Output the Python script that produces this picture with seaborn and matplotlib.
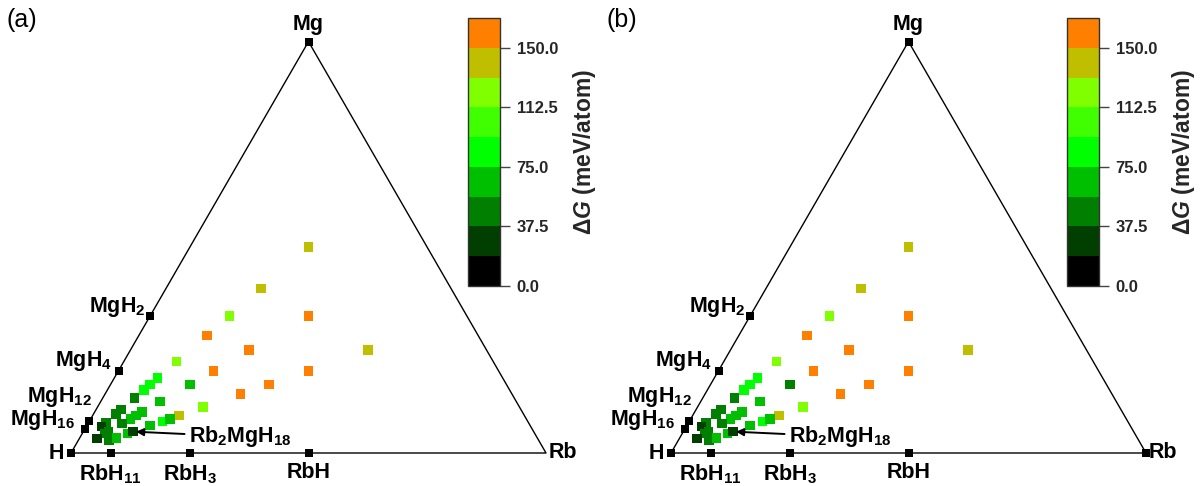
import numpy as np
import matplotlib
matplotlib.use("Agg")
import matplotlib.pyplot as plt
import matplotlib.cm as cm
import seaborn as sns
import pandas as pd
from matplotlib.colors import ListedColormap, Normalize

sns.set_style("white")
plt.rcParams['font.family'] = ['Liberation Sans', 'DejaVu Sans']
plt.rcParams['mathtext.fontset'] = 'custom'
plt.rcParams['mathtext.rm'] = 'Liberation Sans:bold'
plt.rcParams['mathtext.bf'] = 'Liberation Sans:bold'
plt.rcParams['mathtext.it'] = 'Liberation Sans:italic:bold'
plt.rcParams['text.color'] = 'black'

# ---------------- data ----------------
# ternary fractions (Rb, Mg); H = 1 - Rb - Mg
rb_frac = [0.25, 0.20, 0.1667, 0.3333, 0.1429, 0.25, 0.50, 0.1111, 0.20, 0.40,
           0.3333, 0.1667, 0.2857, 0.2222, 0.1818, 0.0909, 0.0833, 0.0769, 0.0667, 0.125,
           0.10, 0.0909, 0.0833, 0.0526, 0.0476, 0.0714, 0.0370, 0.0323, 0.0526, 0.0476,
           0.0370, 0.0645, 0.0775, 0.0952, 0.1333, 0.1538, 0.1667, 0.105]
mg_frac = [0.50, 0.40, 0.3333, 0.3333, 0.2857, 0.25, 0.25, 0.2222, 0.20, 0.20,
           0.1667, 0.1667, 0.1429, 0.1111, 0.0909, 0.1818, 0.1667, 0.1538, 0.1333, 0.125,
           0.10, 0.0909, 0.0833, 0.1053, 0.0952, 0.0714, 0.0741, 0.0645, 0.0526, 0.0476,
           0.0350, 0.0323, 0.0360, 0.0476, 0.0667, 0.0769, 0.0833, 0.052]
# formation energy above hull, meV/atom
dG_a = [140, 140, 122, 160, 160, 160, 140, 122, 160, 160,
        160, 66, 160, 122, 140, 84, 84, 84, 47, 66,
        66, 66, 66, 47, 47, 47, 47, 28, 47, 47,
        28, 47, 66, 66, 66, 84, 66, 28]
dG_b = [140, 140, 122, 160, 160, 160, 140, 122, 160, 160,
        160, 47, 160, 122, 140, 84, 84, 84, 47, 66,
        66, 66, 66, 47, 47, 47, 47, 28, 47, 47,
        28, 47, 66, 66, 66, 84, 66, 28]

# binary / elemental phases (Rb, Mg)
phase_names = ["H", "Mg", "Rb", "MgH$_2$", "MgH$_4$", "MgH$_{12}$", "MgH$_{16}$",
               "RbH$_{11}$", "RbH$_3$", "RbH"]
phase_rb = [0.0, 0.0, 1.0, 0.0, 0.0, 0.0, 0.0, 1/12, 1/4, 1/2]
phase_mg = [0.0, 1.0, 0.0, 1/3, 1/5, 1/13, 1/17, 0.0, 0.0, 0.0]

bin_colors = ["#000000", "#003f00", "#007f00", "#00bf00", "#00ff00",
              "#3fff00", "#7fff00", "#bfbf00", "#ff7f00"]
cbar_ticks = [0.0, 37.5, 75.0, 112.5, 150.0]
g_max = 168.75
panel_tags = ["(a)", "(b)"]
target_label = "Rb$_2$MgH$_{18}$"

cmap = ListedColormap(bin_colors)
norm = Normalize(0, g_max)

def to_xy(rb, mg):
    rb = np.asarray(rb, float)
    mg = np.asarray(mg, float)
    return rb + mg / 2.0, mg * np.sqrt(3) / 2.0

W, H = 1201, 486
fig = plt.figure(figsize=(W / 100, H / 100), dpi=100)

# label layout: (ha, va, dx, dy) in pixels
label_style = {
    "H": ("right", "center", -7, 0),
    "Mg": ("center", "bottom", 0, 7),
    "Rb": ("left", "center", 3, 1),
    "MgH$_2$": ("right", "baseline", -5, 4),
    "MgH$_4$": ("right", "baseline", -6, 5),
    "MgH$_{12}$": ("right", "baseline", 3, 19),
    "MgH$_{16}$": ("right", "baseline", -10, 4),
    "RbH$_{11}$": ("center", "top", 0, -9),
    "RbH$_3$": ("center", "top", 0, -9),
    "RbH": ("center", "top", 0, -9),
}

fs = 15.5
for p, (dG, tag) in enumerate(zip([dG_a, dG_b], panel_tags)):
    x0 = 71 + 600 * p
    ax = fig.add_axes([x0 / W, 33 / H, 475 / W, 411.4 / H])
    ax.set_xlim(0, 1)
    ax.set_ylim(0, np.sqrt(3) / 2)
    ax.axis("off")

    tx, ty = to_xy([0, 1, 0.0, 0], [0, 0, 1, 0])
    ax.plot(tx, ty, color="black", lw=1.0, zorder=1, clip_on=False)

    # phase markers
    px, py = to_xy(phase_rb, phase_mg)
    show = [True] * len(phase_names)
    if p == 0:
        show[2] = False  # no Rb marker in panel (a)
    pdf = pd.DataFrame({"x": px[show], "y": py[show]})
    sns.scatterplot(data=pdf, x="x", y="y", marker="s", s=38, color="black",
                    linewidth=0, ax=ax, zorder=4, clip_on=False, legend=False)
    for name, xx, yy in zip(phase_names, px, py):
        ha, va, dx, dy = label_style[name]
        ax.annotate(name, (xx, yy), xytext=(dx, dy), textcoords="offset pixels",
                    ha=ha, va=va, fontsize=fs, fontweight="bold")

    # ternary compounds
    dx_, dy_ = to_xy(rb_frac, mg_frac)
    df = pd.DataFrame({"x": dx_, "y": dy_, "dG": dG})
    sns.scatterplot(data=df, x="x", y="y", hue="dG", palette=cmap, hue_norm=norm,
                    marker="s", s=48, linewidth=0, ax=ax, zorder=3,
                    clip_on=False, legend=False)

    ax.annotate(target_label, (dx_[-1], dy_[-1]), xytext=(56, -5),
                textcoords="offset pixels", ha="left", va="center",
                fontsize=fs, fontweight="bold",
                arrowprops=dict(arrowstyle="-|>", color="black", lw=1.4,
                                shrinkA=1, shrinkB=2, mutation_scale=11))

    fig.text((7 + 600 * p) / W, 1 - 20 / H, tag, fontsize=18, ha="left", va="center")

    # colorbar
    cax = fig.add_axes([(468 + 599 * p) / W, (H - 286) / H, 32 / W, 268 / H])
    sm = cm.ScalarMappable(norm=norm, cmap=cmap)
    cb = fig.colorbar(sm, cax=cax, ticks=cbar_ticks)
    cb.ax.set_yticklabels([f"{t:.1f}" for t in cbar_ticks], fontsize=12,
                          fontweight="bold")
    cb.ax.tick_params(length=7, width=1, color="#444444", direction="out", pad=5,
                      right=True, labelright=True)
    cb.outline.set_linewidth(1.0)
    cb.outline.set_edgecolor("#333333")
    cb.set_label(r"$\Delta G$ (meV/atom)", fontsize=16.5, fontweight="bold", labelpad=9)

fig.savefig("out.png", dpi=100)
